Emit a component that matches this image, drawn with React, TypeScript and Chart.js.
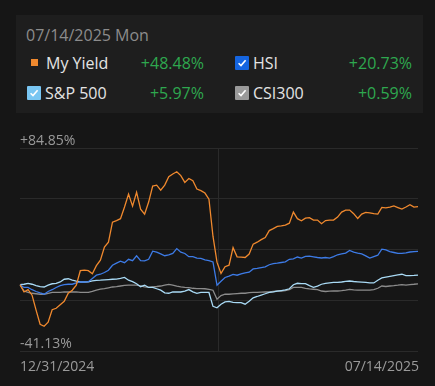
import React, { useEffect, useRef } from "react";
import { Chart, registerables } from "chart.js";

Chart.register(...registerables);

const dateLabel = "07/14/2025 Mon";
const startLabel = "12/31/2024";
const endLabel = "07/14/2025";
const yMax = 84.85;
const yMin = -41.13;
const yMaxLabel = "+84.85%";
const yMinLabel = "-41.13%";

const seriesNames = ["My Yield", "HSI", "S&P 500", "CSI300"];
const seriesReturns = ["+48.48%", "+20.73%", "+5.97%", "+0.59%"];
const seriesColors = ["#f0892e", "#3d7be6", "#a9daf5", "#8c8c8c"];
const legendMarkColors = ["#f0892e", "#1565e0", "#79c6f2", "#9a9a9a"];

const myYield = [
  0, -4.5, -3.1, -6.5, -15.8, -24.5, -25.8, -23.3, -15.5, -14.6,
  -12.4, -10.3, -5.3, -3.4, -0.3, 8.7, 9.0, 8.7, 6.8, 11.8,
  15.2, 23.3, 26.4, 38.8, 39.8, 41.0, 48.2, 56.2, 48.8, 57.3,
  46.9, 43.8, 51.3, 61.2, 61.8, 58.7, 61.8, 67.1, 68.7, 70.1,
  67.7, 63.5, 65.9, 64.6, 59.4, 58.4, 56.9, 53.1, 30.1, 14.0,
  7.0, 11.2, 12.1, 23.0, 17.3, 17.1, 16.9, 19.0, 25.2, 26.4,
  28.0, 29.3, 33.6, 34.8, 36.2, 36.5, 37.0, 38.2, 45.1, 41.0,
  39.7, 41.3, 41.6, 40.1, 40.1, 37.9, 39.8, 40.1, 40.1, 42.0,
  45.1, 46.3, 46.3, 44.1, 41.1, 43.8, 44.9, 44.6, 44.1, 43.8,
  48.0, 47.7, 48.2, 48.9, 47.9, 46.9, 48.2, 49.7, 48.2, 48.48,
];

const hsi = [
  0, -1.7, -1.7, -3.1, -4.2, -5.1, -5.9, -4.2, -3.1, -1.7,
  -0.6, 0.0, 0.3, 0.3, 1.1, 1.7, 1.7, 1.9, 3.9, 5.9,
  6.5, 7.6, 9.0, 12.1, 13.4, 14.6, 13.7, 15.8, 14.9, 18.0,
  15.0, 14.8, 15.8, 20.8, 20.2, 19.1, 18.0, 18.5, 19.4, 22.4,
  20.2, 19.4, 17.4, 17.4, 16.5, 16.3, 15.4, 14.9, 14.1, -0.3,
  2.2, 4.5, 5.3, 6.4, 5.9, 6.8, 7.3, 7.8, 9.8, 10.1,
  10.6, 11.1, 12.4, 13.1, 13.4, 13.8, 14.2, 15.8, 16.0, 17.2,
  16.5, 17.6, 17.7, 17.3, 16.9, 16.6, 16.9, 16.5, 17.4, 18.6,
  19.1, 19.6, 21.3, 20.2, 19.6, 19.1, 17.9, 16.5, 17.5, 18.3,
  22.1, 21.6, 20.6, 20.0, 19.4, 19.4, 19.8, 20.3, 20.6, 20.73,
];

const sp500 = [
  0, 0.3, 0.8, 0.3, -0.5, -1.2, -1.4, -0.2, 0.6, 0.9,
  1.7, 3.4, 3.7, 2.8, 2.2, 1.7, 1.7, 1.8, 2.4, 2.7,
  2.8, 3.0, 3.2, 3.4, 3.5, 3.9, 4.5, 2.8, 1.9, 0.6,
  -1.2, -0.3, -1.7, -1.7, -2.5, -3.4, -5.0, -5.3, -4.5, -4.5,
  -4.5, -3.9, -3.0, -4.4, -5.3, -4.8, -4.8, -4.8, -13.4, -14.3,
  -12.1, -10.7, -10.3, -11.0, -11.1, -11.1, -12.1, -10.3, -8.1, -7.3,
  -6.4, -5.6, -4.8, -4.5, -4.0, -3.6, -3.2, -2.5, 0.0, 0.9,
  0.7, 0.7, -0.6, -1.6, -0.9, 0.3, 0.9, 1.2, 1.4, 1.4,
  1.7, 2.1, 2.3, 2.0, 1.8, 1.6, 1.4, 1.1, 1.1, 2.8,
  4.2, 4.7, 5.2, 5.7, 6.1, 6.5, 5.7, 5.7, 5.8, 5.97,
];

const csi300 = [
  0, -3.9, -4.7, -5.3, -5.6, -5.9, -5.9, -5.4, -4.8, -4.8,
  -4.7, -4.5, -4.5, -4.5, -4.5, -4.7, -4.8, -4.7, -4.2, -3.4,
  -2.7, -2.4, -1.9, -1.4, -1.2, -0.8, -0.4, -0.3, -0.3, -0.3,
  -0.7, -1.4, -1.6, -1.3, -1.1, -0.8, -0.3, 0.2, -0.2, -0.9,
  -1.3, -1.6, -1.8, -2.2, -2.4, -2.4, -2.5, -2.9, -3.4, -9.0,
  -6.7, -5.9, -5.9, -5.7, -5.5, -5.3, -5.3, -4.9, -4.8, -4.8,
  -4.6, -4.5, -4.5, -4.2, -3.9, -3.9, -3.7, -3.1, -1.7, -1.7,
  -1.7, -2.2, -2.6, -2.8, -3.1, -3.9, -4.2, -4.0, -3.9, -3.9,
  -3.7, -3.4, -2.9, -3.2, -3.4, -3.4, -3.4, -3.4, -3.0, -2.2,
  -0.8, -1.1, -0.8, -0.6, -0.3, 0.1, -0.2, 0.1, 0.3, 0.59,
];

const allSeries = [myYield, hsi, sp500, csi300];
const xLabels = myYield.map((_, i) => String(i));

const FONT = "'Open Sans', 'Noto Sans', sans-serif";

const midLinePlugin = {
  id: "midLine",
  beforeDatasetsDraw(chart: any) {
    const { ctx, chartArea } = chart;
    const x = Math.round((chartArea.left + chartArea.right) / 2) - 0.5;
    ctx.save();
    ctx.strokeStyle = "#2a2a2a";
    ctx.lineWidth = 1;
    ctx.beginPath();
    ctx.moveTo(x, chartArea.top);
    ctx.lineTo(x, chartArea.bottom);
    ctx.stroke();
    ctx.restore();
  },
};

function Check({ color }: { color: string }) {
  return (
    <div
      style={{
        width: 14,
        height: 14,
        background: color,
        borderRadius: 1,
        display: "flex",
        alignItems: "center",
        justifyContent: "center",
      }}
    >
      <svg width="10" height="10" viewBox="0 0 10 10">
        <path d="M1.6 5.2 L4 7.6 L8.6 2.2" stroke="#ffffff" strokeWidth="1.6" fill="none" />
      </svg>
    </div>
  );
}

export default function App() {
  const canvasRef = useRef<HTMLCanvasElement | null>(null);

  useEffect(() => {
    document.body.style.margin = "0";
    document.body.style.background = "#161616";
    const canvas = canvasRef.current;
    if (!canvas) return;
    const chart = new Chart(canvas, {
      type: "line",
      data: {
        labels: xLabels,
        datasets: allSeries.map((data, i) => ({
          label: seriesNames[i],
          data,
          borderColor: seriesColors[i],
          borderWidth: 1.3,
          pointRadius: 0,
          tension: 0,
          fill: false,
        })),
      },
      options: {
        animation: false,
        responsive: false,
        maintainAspectRatio: false,
        layout: { padding: { left: 20, right: 17, top: 28, bottom: 35 } },
        plugins: {
          legend: { display: false },
          tooltip: { enabled: false },
        },
        scales: {
          x: { display: false, offset: false },
          y: {
            min: yMin,
            max: yMax,
            ticks: { display: false, stepSize: (yMax - yMin) / 4 },
            grid: { color: "#2a2a2a", drawTicks: false, lineWidth: 1 },
            border: { display: false },
          },
        },
      },
      plugins: [midLinePlugin],
    });
    return () => chart.destroy();
  }, []);

  const rowText: React.CSSProperties = {
    position: "absolute",
    fontSize: 16,
    lineHeight: "16px",
    color: "#e4e4e4",
    whiteSpace: "nowrap",
  };
  const green: React.CSSProperties = { ...rowText, color: "#2ea84f", textAlign: "right" };
  const axisText: React.CSSProperties = {
    position: "absolute",
    fontSize: 14,
    lineHeight: "14px",
    color: "#9a9a9a",
    whiteSpace: "nowrap",
  };

  return (
    <div
      style={{
        position: "relative",
        width: 435,
        height: 386,
        background: "#161616",
        fontFamily: FONT,
        overflow: "hidden",
      }}
    >
      <div
        style={{
          position: "absolute",
          left: 16,
          top: 15,
          width: 407,
          height: 98,
          background: "#1e1e1e",
        }}
      />
      <div style={{ ...rowText, left: 26, top: 27, color: "#8c8c8c" }}>{dateLabel}</div>

      <div style={{ position: "absolute", left: 31, top: 59, width: 7, height: 7, background: legendMarkColors[0] }} />
      <div style={{ ...rowText, left: 46, top: 55 }}>{seriesNames[0]}</div>
      <div style={{ ...green, right: 435 - 204, top: 55 }}>{seriesReturns[0]}</div>

      <div style={{ position: "absolute", left: 235, top: 56 }}>
        <Check color={legendMarkColors[1]} />
      </div>
      <div style={{ ...rowText, left: 253, top: 55 }}>{seriesNames[1]}</div>
      <div style={{ ...green, right: 435 - 412, top: 55 }}>{seriesReturns[1]}</div>

      <div style={{ position: "absolute", left: 27, top: 86 }}>
        <Check color={legendMarkColors[2]} />
      </div>
      <div style={{ ...rowText, left: 45, top: 85 }}>{seriesNames[2]}</div>
      <div style={{ ...green, right: 435 - 204, top: 85 }}>{seriesReturns[2]}</div>

      <div style={{ position: "absolute", left: 235, top: 86 }}>
        <Check color={legendMarkColors[3]} />
      </div>
      <div style={{ ...rowText, left: 253, top: 85 }}>{seriesNames[3]}</div>
      <div style={{ ...green, right: 435 - 412, top: 85 }}>{seriesReturns[3]}</div>

      <canvas
        ref={canvasRef}
        width={435}
        height={266}
        style={{ position: "absolute", left: 0, top: 120, width: 435, height: 266 }}
      />

      <div style={{ ...axisText, left: 20, top: 133 }}>{yMaxLabel}</div>
      <div style={{ ...axisText, left: 20, top: 336 }}>{yMinLabel}</div>
      <div style={{ ...axisText, left: 20, top: 359 }}>{startLabel}</div>
      <div style={{ ...axisText, right: 435 - 419, top: 359 }}>{endLabel}</div>
    </div>
  );
}
